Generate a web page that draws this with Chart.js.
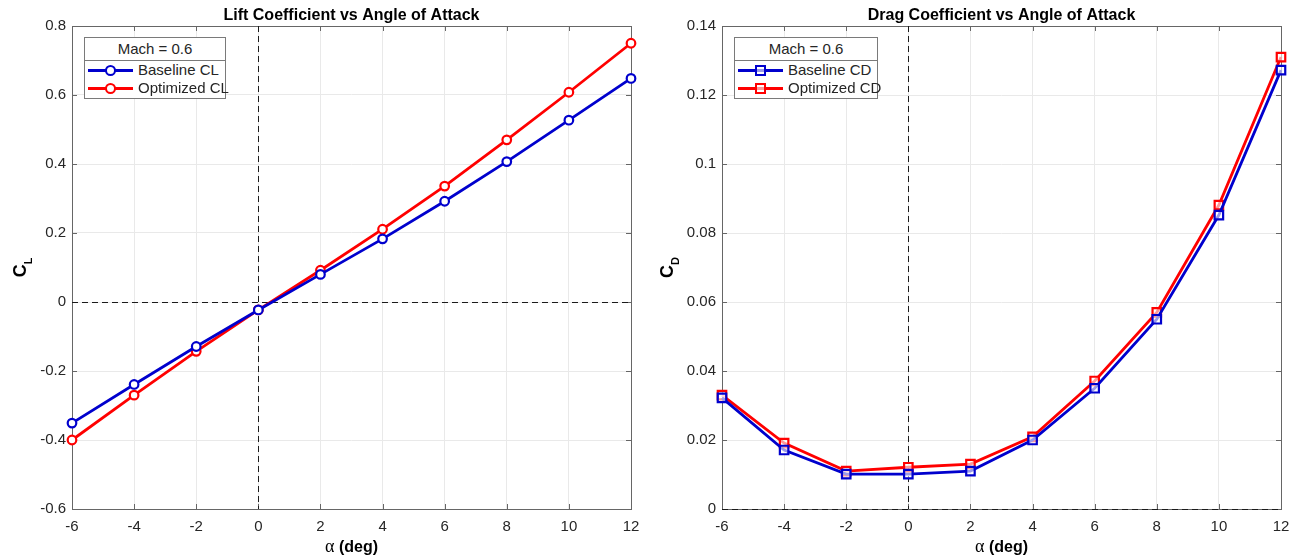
<!DOCTYPE html>
<html><head><meta charset="utf-8">
<script src="https://cdn.jsdelivr.net/npm/chart.js@4.4.0/dist/chart.umd.min.js"></script>
<style>
html,body{margin:0;padding:0;background:#fff}
body{width:1303px;height:558px;overflow:hidden;position:relative;font-family:"Liberation Sans",Arial,Helvetica,sans-serif}
canvas{position:absolute;top:0}
.lg{position:absolute;top:37px;height:62px;background:#fff;border:1px solid #7a7a7a;box-sizing:border-box;font-size:15px;color:#262626}
.lt{height:22px;line-height:22px;text-align:center;border-bottom:1px solid #7a7a7a}
.le{height:18px;line-height:18px;white-space:nowrap;position:relative}
.smp{position:absolute;top:0;height:18px}
.smp .ln{position:absolute;left:0;right:0;top:8px;height:3px}
.smp .mk{position:absolute;box-sizing:border-box;border:2px solid}
.le .tx{position:absolute;top:0}
</style>
</head><body>
<canvas id="cl" width="651" height="558" style="left:0"></canvas>
<canvas id="cd" width="652" height="558" style="left:651px"></canvas>
<script>
// ---- data ----
const alpha = [-6, -4, -2, 0, 2, 4, 6, 8, 10, 12];
const clBaseline  = [-0.351, -0.239, -0.129, -0.023, 0.080, 0.183, 0.292, 0.407, 0.527, 0.648];
const clOptimized = [-0.400, -0.270, -0.143, -0.023, 0.092, 0.211, 0.336, 0.470, 0.608, 0.750];
const cdBaseline  = [0.0322, 0.0171, 0.0101, 0.0101, 0.0110, 0.0200, 0.0350, 0.0550, 0.0852, 0.1272];
const cdOptimized = [0.0330, 0.0191, 0.0110, 0.0121, 0.0130, 0.0209, 0.0371, 0.0570, 0.0881, 0.1310];
const xTicks = [-6, -4, -2, 0, 2, 4, 6, 8, 10, 12];
const xTickLabels = ['-6', '-4', '-2', '0', '2', '4', '6', '8', '10', '12'];
const clTicks = [-0.6, -0.4, -0.2, 0, 0.2, 0.4, 0.6, 0.8];
const clTickLabels = ['-0.6', '-0.4', '-0.2', '0', '0.2', '0.4', '0.6', '0.8'];
const cdTicks = [0, 0.02, 0.04, 0.06, 0.08, 0.1, 0.12, 0.14];
const cdTickLabels = ['0', '0.02', '0.04', '0.06', '0.08', '0.1', '0.12', '0.14'];
const legendTitle = 'Mach = 0.6';
const clLabels = ['Baseline CL', 'Optimized CL'];
const cdLabels = ['Baseline CD', 'Optimized CD'];
const titles = ['Lift Coefficient vs Angle of Attack', 'Drag Coefficient vs Angle of Attack'];

const BLUE = 'rgb(0,0,205)';
const RED = 'rgb(255,0,0)';
const FONT = '"Liberation Sans", Arial, Helvetica, sans-serif';
const AXC = '#666666';

function pts(arr) { return alpha.map((x, i) => ({ x: x, y: arr[i] })); }

const framePlugin = {
  id: 'frame',
  beforeDatasetsDraw(chart) {
    const { ctx, chartArea: a, scales: { x, y } } = chart;
    ctx.save();
    ctx.strokeStyle = AXC; ctx.lineWidth = 1;
    ctx.strokeRect(Math.round(a.left) + 0.5, Math.round(a.top) + 0.5, Math.round(a.right - a.left), Math.round(a.bottom - a.top));
    const tl = 5;
    ctx.beginPath();
    x.ticks.forEach(t => {
      const px = Math.round(x.getPixelForValue(t.value)) + 0.5;
      ctx.moveTo(px, a.bottom); ctx.lineTo(px, a.bottom - tl);
      ctx.moveTo(px, a.top); ctx.lineTo(px, a.top + tl);
    });
    y.ticks.forEach(t => {
      const py = Math.round(y.getPixelForValue(t.value)) + 0.5;
      ctx.moveTo(a.left, py); ctx.lineTo(a.left + tl, py);
      ctx.moveTo(a.right, py); ctx.lineTo(a.right - tl, py);
    });
    ctx.stroke();
    // zero reference lines
    ctx.strokeStyle = '#1a1a1a'; ctx.setLineDash([6, 4]);
    ctx.beginPath();
    const x0 = Math.round(x.getPixelForValue(0)) + 0.5;
    ctx.moveTo(x0, a.top); ctx.lineTo(x0, a.bottom);
    const y0 = Math.round(y.getPixelForValue(0)) + 0.5;
    ctx.moveTo(a.left, y0); ctx.lineTo(a.right, y0);
    ctx.stroke();
    ctx.restore();
  },
  afterDraw(chart) {
    const { ctx, chartArea: a } = chart;
    const o = chart.options.plugins.frame;
    const cx = (a.left + a.right) / 2;
    ctx.save();
    ctx.fillStyle = '#000';
    ctx.textBaseline = 'alphabetic';
    ctx.textAlign = 'center';
    ctx.font = 'bold 16px ' + FONT;
    ctx.fillText(o.title, cx, 20);
    // x label: alpha (deg)
    ctx.textAlign = 'left';
    const f1 = '18px "Liberation Serif", "DejaVu Serif", serif';
    const f2 = 'bold 16px ' + FONT;
    ctx.font = f1; const w1 = ctx.measureText('\u03B1').width;
    ctx.font = f2; const w2 = ctx.measureText(' (deg)').width;
    let sx = cx - (w1 + w2) / 2;
    ctx.font = f1; ctx.fillText('\u03B1', sx, 552);
    ctx.font = f2; ctx.fillText(' (deg)', sx + w1, 552);
    // y label with subscript
    const fm = 'bold 18px ' + FONT, fs = 'bold 11px ' + FONT;
    ctx.font = fm; const wm = ctx.measureText('C').width;
    ctx.font = fs; const ws = ctx.measureText(o.sub).width;
    ctx.translate(o.ylx, (a.top + a.bottom) / 2);
    ctx.rotate(-Math.PI / 2);
    const st = -(wm + ws) / 2;
    ctx.font = fm; ctx.fillText('C', st, 0);
    ctx.font = fs; ctx.fillText(o.sub, st + wm, 6);
    ctx.restore();
  }
};

function makeChart(id, cfg) {
  const tickFont = { family: FONT, size: 15 };
  return new Chart(document.getElementById(id), {
    type: 'line',
    data: {
      datasets: cfg.series.map((s, i) => ({
        label: s.label,
        data: pts(s.data),
        borderColor: s.color,
        backgroundColor: s.color,
        borderWidth: 2.8,
        pointStyle: cfg.marker,
        pointRadius: cfg.marker === 'rect' ? 6 : 4.3,
        pointBorderWidth: 2.2,
        pointBorderColor: s.color,
        pointBackgroundColor: cfg.marker === 'rect' ? 'rgba(255,255,255,0.6)' : '#fff',
        tension: 0,
        clip: false
      }))
    },
    options: {
      responsive: false, animation: false, devicePixelRatio: 1,
      layout: { padding: { top: 26, right: cfg.padRight, left: 0, bottom: 0 } },
      plugins: { legend: { display: false }, tooltip: { enabled: false }, frame: { title: cfg.title, sub: cfg.sub, ylx: cfg.ylx } },
      scales: {
        x: {
          type: 'linear', min: -6, max: 12,
          afterBuildTicks: s => { s.ticks = xTicks.map(v => ({ value: v })); },
          afterFit: s => { s.height = 49; },
          ticks: { font: tickFont, color: '#262626', padding: 9, maxRotation: 0, autoSkip: false,
                   callback: v => xTickLabels[xTicks.indexOf(v)] },
          grid: { color: '#e9e9e9', drawTicks: false },
          border: { display: false }
        },
        y: {
          type: 'linear', min: cfg.yTicks[0], max: cfg.yTicks[cfg.yTicks.length - 1],
          afterBuildTicks: s => { s.ticks = cfg.yTicks.map(v => ({ value: v })); },
          afterFit: s => { s.width = cfg.yWidth; },
          ticks: { font: tickFont, color: '#262626', padding: 6, autoSkip: false,
                   callback: v => cfg.yTickLabels[cfg.yTicks.indexOf(v)] },
          grid: { color: '#e9e9e9', drawTicks: false },
          border: { display: false }
        }
      }
    },
    plugins: [framePlugin]
  });
}

const chartL = makeChart('cl', {
  title: titles[0], sub: 'L', ylx: 26, marker: 'circle', yWidth: 72, padRight: 20,
  yTicks: clTicks, yTickLabels: clTickLabels,
  series: [{ label: clLabels[0], data: clBaseline, color: BLUE }, { label: clLabels[1], data: clOptimized, color: RED }]
});
const chartR = makeChart('cd', {
  title: titles[1], sub: 'D', ylx: 22, marker: 'rect', yWidth: 71, padRight: 22,
  yTicks: cdTicks, yTickLabels: cdTickLabels,
  series: [{ label: cdLabels[0], data: cdBaseline, color: BLUE }, { label: cdLabels[1], data: cdOptimized, color: RED }]
});

function makeLegend(chart, left, width, square) {
  const d = document.createElement('div');
  d.className = 'lg'; d.style.left = left + 'px'; d.style.width = width + 'px';
  const t = document.createElement('div'); t.className = 'lt'; t.textContent = legendTitle; d.appendChild(t);
  chart.data.datasets.forEach(ds => {
    const e = document.createElement('div'); e.className = 'le';
    const s = document.createElement('span'); s.className = 'smp'; s.style.left = '3px'; s.style.width = '45px';
    const ln = document.createElement('span'); ln.className = 'ln'; ln.style.background = ds.borderColor; s.appendChild(ln);
    const mk = document.createElement('span'); mk.className = 'mk'; mk.style.borderColor = ds.borderColor;
    mk.style.left = '17px'; mk.style.top = '4px'; mk.style.width = '11px'; mk.style.height = '11px';
    if (square) { mk.style.background = 'rgba(255,255,255,0.6)'; }
    else { mk.style.borderRadius = '50%'; mk.style.background = '#fff'; }
    s.appendChild(mk); e.appendChild(s);
    const tx = document.createElement('span'); tx.className = 'tx'; tx.style.left = '53px'; tx.textContent = ds.label; e.appendChild(tx);
    d.appendChild(e);
  });
  document.body.appendChild(d);
}
makeLegend(chartL, 84, 142, false);
makeLegend(chartR, 734, 144, true);
</script>
</body></html>
